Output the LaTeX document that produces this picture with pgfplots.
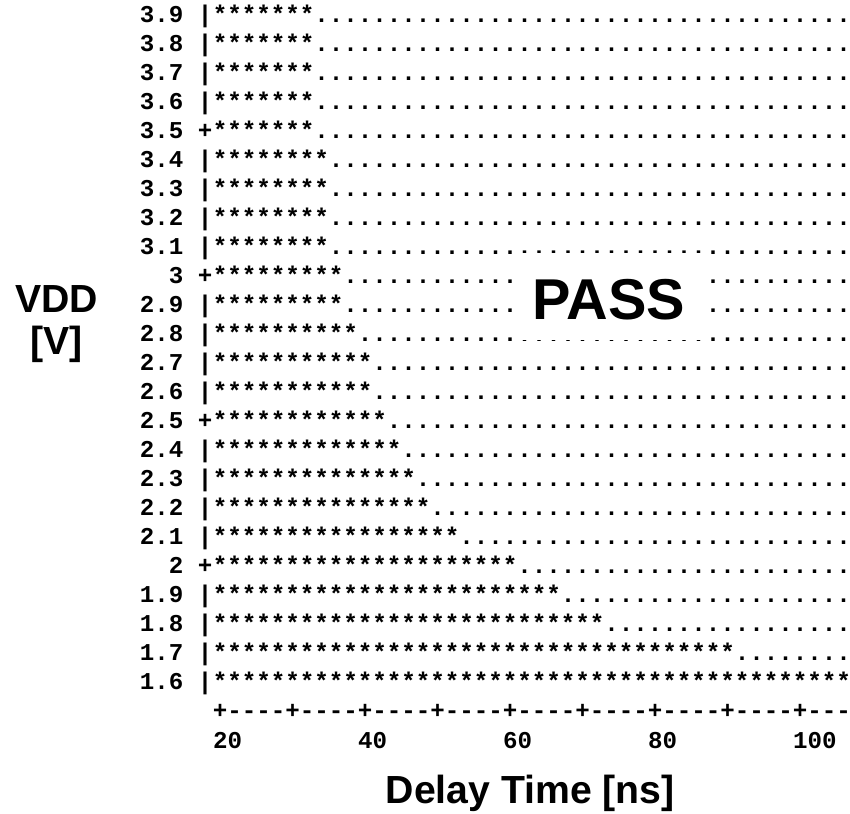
\documentclass[border=0pt]{standalone}
\usepackage{fontspec}
\usepackage{pgfplots}
\usepackage{pgfplotstable}
\pgfplotsset{compat=1.18}
\setmainfont{Liberation Sans}
\newfontfamily\monofont{Liberation Mono}
\newcommand\mono{\monofont\bfseries\fontsize{12.08pt}{14.5pt}\selectfont}
\newcommand\lab{\bfseries\fontsize{19.6pt}{22pt}\selectfont}

% shmoo data: for each VDD [V], the largest delay [ns] that still fails
\pgfplotstableread{
vdd tfail
3.9 32
3.8 32
3.7 32
3.6 32
3.5 32
3.4 34
3.3 34
3.2 34
3.1 34
3.0 36
2.9 36
2.8 38
2.7 40
2.6 40
2.5 42
2.4 44
2.3 46
2.2 48
2.1 52
2.0 60
1.9 66
1.8 72
1.7 90
1.6 106
}\shmoo

\gdef\starlist{}\gdef\dotlist{}
\pgfplotstablegetrowsof{\shmoo}
\pgfmathtruncatemacro\lastrow{\pgfplotsretval-1}
\foreach \i in {0,...,\lastrow}{%
  \pgfplotstablegetelem{\i}{vdd}\of\shmoo \edef\vv{\pgfplotsretval}%
  \pgfplotstablegetelem{\i}{tfail}\of\shmoo \edef\tf{\pgfplotsretval}%
  \foreach \xx in {20,22,...,106}{%
    \ifnum\xx>\tf\relax
      \xdef\dotlist{\dotlist(\xx,\vv)}%
    \else
      \xdef\starlist{\starlist(\xx,\vv)}%
    \fi
  }%
}
% ASCII x-axis row
\gdef\pluslist{}\gdef\dashlist{}
\foreach \xx in {20,22,...,106}{%
  \pgfmathtruncatemacro\rr{mod(\xx-20,10)}%
  \ifnum\rr=0\relax
    \xdef\pluslist{\pluslist(\xx,1.5)}%
  \else
    \xdef\dashlist{\dashlist(\xx,1.5)}%
  \fi
}

\pgfplotsset{
  charmark/.style={only marks, mark=text, text mark={#1}, text mark as node=true,
    text mark style={font=\mono, inner sep=0pt, outer sep=0pt, anchor=base}},
}

\begin{document}
\begin{tikzpicture}
\begin{axis}[
  set layers=standard,
  x=3.625pt, y=145pt,
  xmin=19, xmax=107, ymin=1.4, ymax=3.95,
  clip=false,
  axis line style={draw=none},
  major tick length=0pt,
  tick style={draw=none},
  xtick={20,40,60,80,100},
  xticklabels={20,40,60,80,100},
  xticklabel style={font=\mono, anchor=base west, inner sep=0pt, xshift=-3.625pt},
  ytick={1.6,1.7,1.8,1.9,2.0,2.1,2.2,2.3,2.4,2.5,2.6,2.7,2.8,2.9,3.0,3.1,3.2,3.3,3.4,3.5,3.6,3.7,3.8,3.9},
  yticklabels={1.6\phantom{0}|,1.7\phantom{0}|,1.8\phantom{0}|,1.9\phantom{0}|,2\phantom{0}+,
    2.1\phantom{0}|,2.2\phantom{0}|,2.3\phantom{0}|,2.4\phantom{0}|,2.5\phantom{0}+,
    2.6\phantom{0}|,2.7\phantom{0}|,2.8\phantom{0}|,2.9\phantom{0}|,3\phantom{0}+,
    3.1\phantom{0}|,3.2\phantom{0}|,3.3\phantom{0}|,3.4\phantom{0}|,3.5\phantom{0}+,
    3.6\phantom{0}|,3.7\phantom{0}|,3.8\phantom{0}|,3.9\phantom{0}|},
  yticklabel style={font=\mono, anchor=base east, inner sep=0pt},
]
\edef\tmp{\noexpand\addplot[charmark={*}] coordinates {\starlist};}\tmp
\edef\tmp{\noexpand\addplot[charmark={.}] coordinates {\dotlist};}\tmp
\edef\tmp{\noexpand\addplot[charmark={+}] coordinates {\pluslist};}\tmp
\edef\tmp{\noexpand\addplot[charmark={-}] coordinates {\dashlist};}\tmp
\begin{pgfonlayer}{axis foreground}
\fill[white] (axis cs:61,2.808) rectangle (axis cs:87,3.108);
\node[font=\bfseries\fontsize{28.8pt}{30pt}\selectfont, anchor=base, inner sep=0pt] at (axis cs:73.66,2.876) {PASS};
\end{pgfonlayer}
\node[font=\lab, anchor=base, inner sep=0pt] at (axis cs:-2.5,2.9034) {VDD};
\node[font=\lab, anchor=base, inner sep=0pt] at (axis cs:-2.5,2.7552) {[V]};
\node[font=\lab, anchor=base, inner sep=0pt] at (axis cs:62.8,1.21) {Delay Time [ns]};
\coordinate (O) at (axis cs:20,3.9);
\end{axis}
\pgfresetboundingbox
\path ([shift={(-110pt,11.5pt)}]O) rectangle ([shift={(315pt,-395pt)}]O);
\end{tikzpicture}
\end{document}
